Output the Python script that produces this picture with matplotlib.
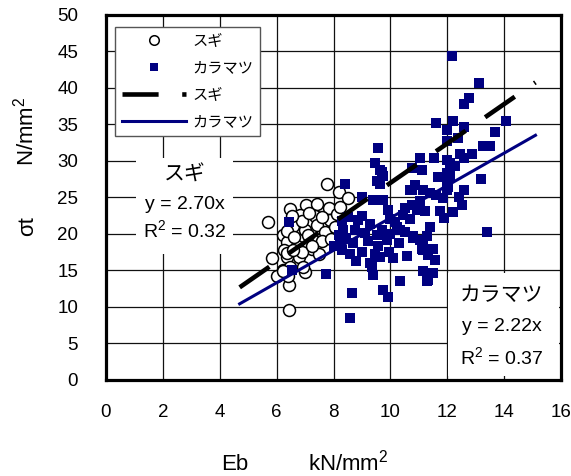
import numpy as np
import matplotlib
matplotlib.use("Agg")
import matplotlib.pyplot as plt
from matplotlib.patches import Rectangle

plt.rcParams['font.family'] = ['Liberation Sans', 'Noto Sans CJK JP']
plt.rcParams['mathtext.fontset'] = 'custom'
plt.rcParams['mathtext.rm'] = 'Liberation Sans'
plt.rcParams['mathtext.it'] = 'Liberation Sans'
plt.rcParams['lines.scale_dashes'] = False

# スギ (circles)
sugi_x = [7.78, 8.20, 8.50, 5.71, 6.47, 7.04, 7.42, 7.85, 7.35, 6.82, 7.00, 6.59,
          6.23, 6.38, 7.41, 7.70, 7.88, 8.11, 8.23, 7.23, 6.80, 5.83, 6.35, 6.23,
          6.00, 7.00, 6.45, 6.45, 7.29, 6.70, 7.58, 6.47, 6.90, 7.15, 7.60, 6.35,
          6.60, 7.10, 7.90, 6.90, 7.50, 8.05, 6.40, 6.25, 6.55, 6.37, 6.94, 6.59,
          7.23, 6.23]
sugi_y = [26.8, 25.8, 24.9, 21.7, 23.4, 24.0, 24.1, 23.6, 22.5, 22.6, 20.5, 21.1,
          19.9, 18.9, 21.2, 20.3, 21.9, 22.8, 23.7, 18.0, 16.9, 16.7, 16.8, 15.1,
          14.2, 14.8, 13.0, 9.6, 19.2, 18.3, 19.0, 15.5, 21.8, 22.9, 22.3, 20.4,
          19.6, 19.8, 19.3, 17.6, 17.2, 20.9, 14.3, 17.8, 22.4, 17.4, 15.5, 17.8,
          18.3, 14.9]

# カラマツ (squares)
kara_x = [8.40, 6.43, 6.55, 7.74, 9.58, 11.04, 9.46, 9.72, 9.63, 8.99, 9.40, 9.75,
          10.75, 11.16, 11.04, 9.93, 10.51, 10.69, 8.87, 9.28, 10.16, 10.34, 8.34, 8.75,
          9.52, 9.87, 8.23, 8.58, 8.99, 9.58, 10.10, 9.63, 9.34, 9.40, 10.34, 11.16,
          11.27, 9.75, 9.93, 8.64, 8.58, 11.16, 10.81, 11.27, 10.22, 10.46, 10.92, 9.99,
          12.15, 13.13, 12.78, 12.57, 14.06, 11.60, 12.21, 11.98, 12.57, 13.68, 12.39, 11.98,
          13.27, 13.50, 12.86, 12.45, 11.53, 11.98, 12.57, 12.27, 11.10, 11.68, 12.10, 13.20,
          12.04, 12.57, 10.86, 11.62, 10.75, 12.50, 13.38, 11.39, 11.86, 11.74, 11.22, 11.39,
          10.81, 11.10, 11.51, 11.33, 11.57, 11.51, 11.33, 10.75, 8.00, 9.28, 11.04, 11.16,
          11.27, 8.30, 8.50, 8.45, 8.20, 8.70, 9.10, 9.20, 9.00, 9.70, 10.00, 10.50,
          10.30, 9.45, 8.30, 8.80, 9.95, 10.60, 12.20, 12.40, 11.90, 12.00, 11.98, 12.10,
          9.63, 9.75, 9.52, 10.69, 11.98]
kara_y = [26.9, 21.6, 15.1, 14.5, 31.8, 30.4, 29.7, 28.5, 26.9, 25.1, 24.7, 24.6,
          26.0, 26.0, 24.5, 23.3, 23.5, 22.1, 21.9, 21.4, 21.7, 20.5, 20.5, 20.5,
          19.9, 19.2, 18.5, 17.3, 17.5, 18.3, 16.7, 16.9, 15.5, 14.4, 13.5, 14.9,
          13.5, 12.3, 11.4, 11.9, 8.5, 18.3, 19.7, 19.7, 21.0, 22.6, 23.3, 22.1,
          44.4, 40.7, 38.6, 37.8, 35.5, 35.2, 35.5, 34.3, 34.7, 34.0, 33.1, 32.7,
          32.1, 32.1, 31.0, 31.0, 30.4, 30.1, 30.4, 29.3, 28.8, 27.8, 27.9, 27.5,
          26.5, 26.0, 26.7, 25.3, 29.0, 24.0, 20.3, 25.6, 24.9, 23.1, 23.1, 21.0,
          19.4, 18.0, 18.0, 17.1, 16.5, 14.6, 13.7, 24.0, 18.3, 16.0, 19.2, 17.8,
          14.6, 21.8, 22.3, 19.4, 19.8, 18.8, 20.1, 19.0, 22.5, 20.6, 20.0, 20.3,
          18.7, 17.3, 17.8, 16.3, 17.6, 17.0, 23.0, 25.0, 22.2, 26.0, 28.3, 29.7,
          28.8, 27.9, 27.2, 26.0, 27.2]

# regression lines (through origin)
fit_range = [4.7, 15.1]
sugi_slope = 2.70
kara_slope = 2.22

navy = '#000080'

fig = plt.figure(figsize=(5.71, 4.76), dpi=100)
ax = fig.add_axes([0.1856, 0.2017, 0.797, 0.7668])

ax.plot(sugi_x, sugi_y, 'o', ms=8.6, mfc='white', mec='black', mew=1.1,
        label='スギ', zorder=3)
ax.plot(kara_x, kara_y, 's', ms=7.4, mfc=navy, mec=navy, mew=0,
        label='カラマツ', zorder=4)

fx = np.array(fit_range)
ax.plot(fx, sugi_slope * fx, color='black', lw=3.3, dashes=(26, 17),
        solid_capstyle='butt', dash_capstyle='butt', label='スギ', zorder=5)
ax.plot(fx, kara_slope * fx, color=navy, lw=2.2, label='カラマツ', zorder=5)

ax.set_xlim(0, 16)
ax.set_ylim(0, 50)
ax.set_xticks(range(0, 17, 2))
ax.set_yticks(range(0, 51, 5))
ax.tick_params(length=0, labelsize=13.5)
ax.tick_params(axis='x', pad=17)
ax.tick_params(axis='y', pad=20)
ax.set_axisbelow(True)
ax.grid(True, color='#111111', lw=0.9)
for s in ax.spines.values():
    s.set_linewidth(2.3)
    s.set_zorder(6)

# white boxes behind the regression notes
ax.add_patch(Rectangle((1.05, 17.3), 3.42, 13.1, fc='white', ec='none', zorder=1))
ax.add_patch(Rectangle((12.03, 0.55), 3.9, 14.1, fc='white', ec='none', zorder=1))

ax.text(2.78, 28.1, 'スギ', fontsize=15, ha='center', va='center', zorder=2)
ax.text(2.78, 24.0, 'y = 2.70x', fontsize=14, ha='center', va='center', zorder=2)
ax.text(2.78, 20.5, 'R$^2$ = 0.32', fontsize=14, ha='center', va='center', zorder=2)
ax.text(13.92, 11.64, 'カラマツ', fontsize=15, ha='center', va='center', zorder=2)
ax.text(13.92, 7.26, 'y = 2.22x', fontsize=14, ha='center', va='center', zorder=2)
ax.text(13.92, 3.15, 'R$^2$ = 0.37', fontsize=14, ha='center', va='center', zorder=2)

leg = ax.legend(loc='upper left', bbox_to_anchor=(0.02, 0.967), borderaxespad=0,
                fontsize=11, handlelength=4.2, handletextpad=0.4,
                labelspacing=0.85, markerscale=0.8, fancybox=False,
                framealpha=1, edgecolor='#555555', borderpad=0.45)
leg.get_frame().set_linewidth(1.0)
leg.set_zorder(7)

fig.text(235 / 571, 1 - 465 / 476, 'Eb', fontsize=16, ha='center', va='center')
fig.text(308 / 571, 1 - 463 / 476, 'kN/mm$^2$', fontsize=16, ha='left', va='center')
fig.text(26 / 571, 1 - 131 / 476, 'N/mm$^2$', fontsize=16, rotation=90,
         ha='center', va='center')
fig.text(28 / 571, 1 - 226 / 476, 'σt', fontsize=16, rotation=90,
         ha='center', va='center')

fig.savefig('out.png', dpi=100)
